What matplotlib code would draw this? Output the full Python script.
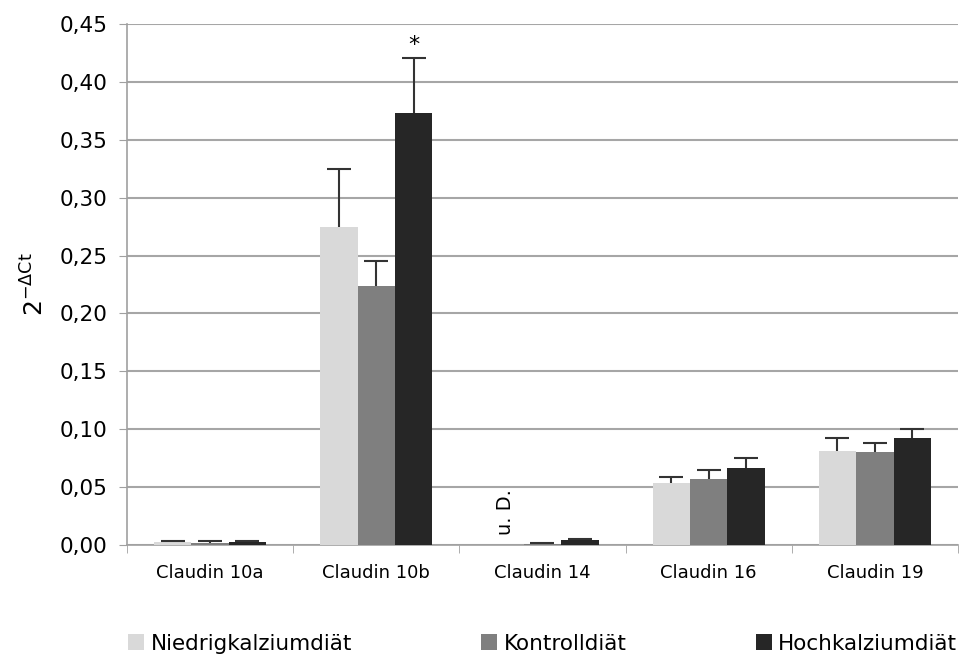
import numpy as np
import matplotlib.pyplot as plt
from matplotlib.ticker import FuncFormatter

plt.rcParams['font.family'] = ['DejaVu Sans']

# Data
categories = ['Claudin 10a', 'Claudin 10b', 'Claudin 14', 'Claudin 16', 'Claudin 19']
series = ['Niedrigkalziumdiät', 'Kontrolldiät', 'Hochkalziumdiät']
niedrig = [0.0025, 0.275, 0.0, 0.0535, 0.081]
kontroll = [0.0015, 0.224, 0.0012, 0.057, 0.080]
hoch = [0.0025, 0.373, 0.0045, 0.0665, 0.092]
niedrig_err = [0.0012, 0.050, 0.0, 0.0055, 0.011]
kontroll_err = [0.0018, 0.021, 0.0008, 0.0075, 0.008]
hoch_err = [0.001, 0.048, 0.0008, 0.0085, 0.008]
colors = ['#d9d9d9', '#7f7f7f', '#262626']

fig = plt.figure(figsize=(9.6, 6.57), dpi=100)
ax = fig.add_axes([0.1323, 0.1705, 0.8656, 0.793])

x = np.arange(len(categories))
w = 0.225
values = [niedrig, kontroll, hoch]
errors = [niedrig_err, kontroll_err, hoch_err]

for i in range(3):
    pos = x + (i - 1) * w
    ax.bar(pos, values[i], w, color=colors[i], label=series[i], zorder=3)
    # only plus error bars, like Excel
    err = np.array(errors[i])
    mask = err > 0
    eb = ax.errorbar(pos[mask], np.array(values[i])[mask],
                     yerr=[np.zeros(mask.sum()), err[mask]],
                     fmt='none', ecolor='#333333', elinewidth=1.5,
                     capsize=8.5, capthick=1.5, zorder=4)
    eb[1][0].set_visible(False)  # hide lower cap

# significance star and "not detected" marker
ax.text(x[1] + w, hoch[1] + hoch_err[1] + 0.002, '*', ha='center', va='bottom', fontsize=16)
ax.text(x[2] - w, 0.0085, 'u. D.', rotation=90, ha='center', va='bottom', fontsize=14)

ax.set_xlim(-0.5, len(categories) - 0.5)
ax.set_ylim(0, 0.45)
ax.set_yticks(np.arange(0, 0.451, 0.05))
ax.yaxis.set_major_formatter(FuncFormatter(lambda v, p: f'{v:.2f}'.replace('.', ',')))
ax.set_xticks(x)
ax.set_xticklabels(categories, fontsize=13)
ax.set_xticks(np.arange(-0.5, len(categories)), minor=True)
ax.tick_params(axis='x', which='major', length=0, pad=14)
ax.tick_params(axis='x', which='minor', length=6, color='#a0a0a0')
ax.tick_params(axis='y', labelsize=15.5, length=6, color='#a0a0a0', pad=8)

ax.yaxis.grid(True, color='#a6a6a6', linewidth=1.5, zorder=0)
ax.set_axisbelow(True)
for s in ['top', 'right']:
    ax.spines[s].set_visible(False)
for s in ['left', 'bottom']:
    ax.spines[s].set_color('#a0a0a0')
    ax.spines[s].set_linewidth(1.2)

ax.set_ylabel('2$^{\\mathregular{-ΔCt}}$', fontsize=18, labelpad=8)

fig.legend(loc='lower center', bbox_to_anchor=(0.5652, -0.008),
           ncol=3, frameon=False, fontsize=15.5, handlelength=0.75, handleheight=0.75,
           handletextpad=0.3, columnspacing=6.0, borderaxespad=0)

fig.savefig('out.png', dpi=100)
